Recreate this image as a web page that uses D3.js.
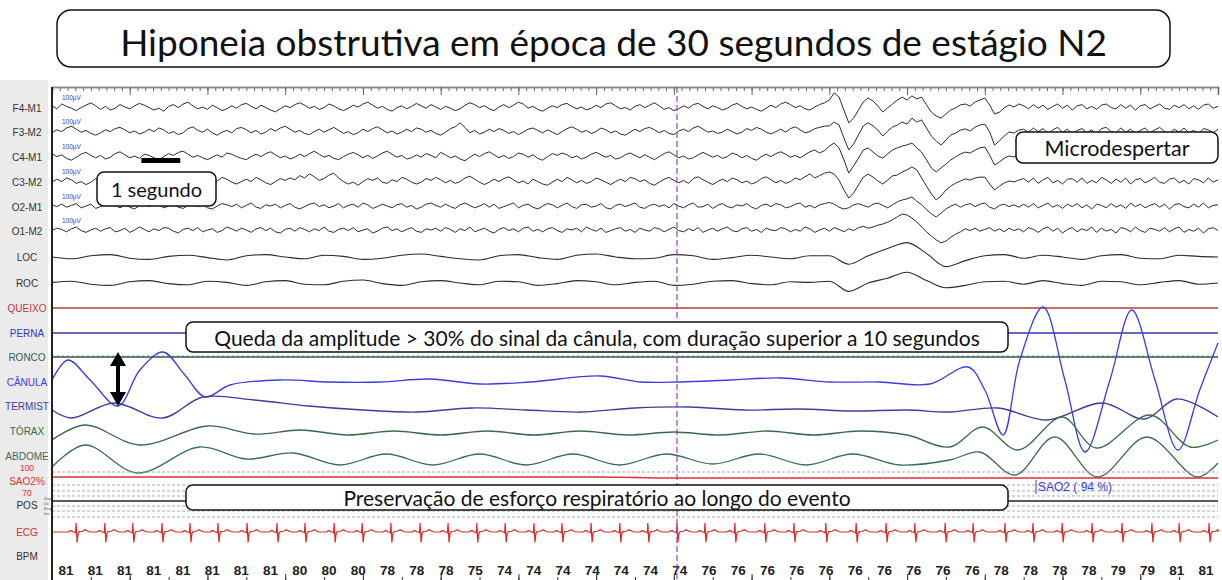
<!DOCTYPE html>
<html><head><meta charset="utf-8">
<script src="https://cdn.jsdelivr.net/npm/d3@7"></script>
<style>body{margin:0;background:#fff}svg{display:block}</style>
</head><body>
<svg id="chart" width="1222" height="580"></svg>
<script>
// ---- Epoch data (30 s of N2 sleep) ----
const epochSeconds = 30;
const eegRate = 8;   // samples per second for EEG traces (µV)
const eogRate = 2;   // samples per second for EOG traces (µV)

const eegF4M1 = [4,-6,10,2,-4,-12,-2,6,14,4,-8,2,-10,-4,8,0,-6,4,12,6,
 -2,-10,-4,-14,2,8,-2,10,16,4,-6,0,-8,6,-2,-12,-6,4,-4,8,
 12,2,-6,6,-2,-10,-16,-6,4,-2,8,14,6,-4,2,-8,-2,10,4,-6,
 -12,-4,6,0,10,16,6,-4,2,-8,-14,-2,4,-6,2,12,4,-4,8,0,
 -8,2,-4,-12,-6,6,14,8,-2,4,-6,-12,0,8,-2,6,16,10,-4,2,
 -8,-14,-4,4,-2,8,12,2,-6,0,-10,-4,6,-2,10,14,4,-6,-2,-10,
 2,8,-2,6,14,4,-8,-2,-12,-6,4,-4,8,12,2,-6,4,-2,-10,-4,
 6,12,2,-6,0,-8,-14,-4,6,-2,10,16,8,-2,4,-6,-10,0,8,14,
 23,47,33,-10,-53,-37,-10,17,30,20,3,-17,-3,10,23,33,23,37,27,33,
 7,-17,-30,-37,-23,-10,-3,7,10,3,17,23,30,7,-23,-17,-3,7,0,10,
 4,-6,8,-4,6,-8,2,10,-4,6,-10,4,8,-6,2,-8,6,10,-2,-6,8,-4,6,-10,4,8,-6,2,10,-4,-8,6,-2,8,-6,4,-8,6,10,-4,2];
const eegF3M2 = [-6,4,-2,10,16,6,-4,2,-8,-14,-6,4,-2,8,12,4,-6,0,-10,-4,
 6,-2,10,4,-8,-2,-12,-6,8,14,2,-4,6,-6,-14,-4,2,-6,8,12,
 4,-6,2,-10,-4,8,0,10,16,6,-4,2,-8,-12,-2,6,-4,4,12,2,
 -8,-2,-12,-6,6,-2,8,14,4,-6,0,-10,-4,6,-2,10,6,-4,2,-8,
 -14,-4,8,14,27,12,-6,2,-10,-4,6,-2,8,2,-8,-2,-12,-4,6,10,
 2,-6,4,-4,-12,-2,8,14,6,-4,2,-8,-2,10,4,-6,0,-10,-14,-4,
 6,-2,8,12,4,-6,2,-8,-12,0,6,-2,10,16,6,-4,0,-8,-4,6,
 -2,-10,-4,8,2,12,6,-4,-10,-2,6,-4,8,14,4,-6,-2,8,12,16,
 17,30,20,-23,-63,-43,-13,17,27,17,3,-17,0,13,20,30,23,43,30,37,
 10,-17,-33,-47,-30,-13,-7,3,7,0,13,20,23,-3,-47,-33,-17,-3,-7,3,
 6,-4,10,-2,8,-8,4,12,-4,6,-10,2,8,-6,4,-10,8,12,-2,-6,10,-4,6,-8,2,10,-6,4,12,-2,-8,6,-4,10,-6,2,-10,8,4,-6,6];
const eegC4M1 = [8,-2,4,-8,-14,-4,6,12,2,-6,2,-10,-4,8,14,4,-6,0,-8,6,
 2,-6,-12,-2,8,2,12,16,6,-4,2,-6,-12,-4,4,-4,10,6,-2,-8,
 -12,-2,6,-2,8,14,4,-6,0,-10,-4,6,-2,8,16,6,-4,2,-8,-12,
 -2,6,12,4,-6,2,-8,0,10,16,6,-4,2,-10,-6,4,-4,8,2,-6,
 12,4,-6,0,-10,-16,-4,6,-2,8,14,4,-6,2,-8,-2,10,6,-4,4,
 -8,-14,-2,8,2,10,4,-6,0,-10,-4,6,12,4,-4,2,-10,-6,4,10,
 2,-6,4,-4,-12,-2,8,14,4,-6,0,-10,-6,4,12,4,-4,2,-8,-2,
 10,4,-6,2,-8,-14,-2,6,-2,8,14,6,-4,2,-6,4,14,20,10,18,
 33,43,27,-13,-57,-33,-7,20,27,13,0,-7,7,20,27,33,37,43,27,13,
 -13,-40,-53,-40,-27,-13,-3,7,13,10,20,27,30,3,-30,-20,-7,0,-3,3,
 6,-6,10,-4,8,-10,4,10,-6,2,-8,6,12,-4,4,-10,8,-2,6,-8,10,-6,4,-10,6,8,-4,10,-6,2,-8,6,-4,10,-8,4,-6,8,-4,6,-2];
const eegC3M2 = [-4,6,-2,10,4,-8,-2,-12,-4,8,14,4,-6,2,-8,-2,10,6,-4,-10,
 -2,8,2,14,6,-4,2,-10,-4,6,-2,10,4,-6,0,12,6,-4,-10,-2,
 6,-2,12,4,-6,-12,-2,8,2,10,4,18,10,24,14,2,8,20,26,10,
 -2,-10,-4,-14,-2,8,2,10,-4,-8,4,-2,12,6,-4,-10,-4,8,2,12,
 4,-6,2,-8,-2,10,16,6,-4,-12,-4,6,-2,8,14,4,-6,0,-10,6,
 -2,-10,-14,-4,6,-2,12,4,-6,2,-8,-2,10,4,-4,-12,-2,6,-2,12,
 8,-2,4,-8,-14,-4,6,12,2,-6,2,-8,8,14,4,-4,-12,-2,6,-2,
 10,4,-6,0,-10,-4,8,14,4,-6,2,-8,-2,10,4,14,24,10,18,26,
 30,23,3,-30,-57,-40,-13,13,23,13,0,-10,3,17,20,30,37,47,37,10,
 -17,-43,-63,-50,-30,-17,-7,0,7,3,10,13,13,-10,-30,-17,-7,0,-3,3,
 8,-4,10,-8,4,12,-6,2,-10,6,8,-4,10,-8,2,-6,12,4,-8,6,-4,10,-10,4,8,-6,2,12,-4,-8,6,10,-6,2,-10,8,4,-6,10,-4,4];
const eegO2M1 = [4,-2,6,-4,2,8,-6,0,6,-8,-2,4,10,2,-6,4,-4,-10,2,6,
 -2,8,4,-6,0,10,-4,-8,2,6,-2,4,-6,-10,0,8,4,-2,6,-6,
 2,10,-4,-8,4,0,6,-6,2,8,-4,-10,-2,6,10,-2,4,-6,0,8,
 -6,2,6,-4,10,4,-8,-2,6,0,-6,4,8,-4,2,-10,-4,6,10,2,
 -4,6,-2,-8,4,10,2,-6,0,8,-4,6,-8,-2,4,10,-6,2,6,-4,
 -10,0,8,4,-6,2,10,-2,-8,4,6,-4,0,8,-6,-10,2,6,-2,4,
 10,-4,-8,2,6,-2,4,-6,8,0,-6,4,10,-4,-2,6,-8,2,8,-2,
 -6,4,0,8,-4,-10,2,6,-2,8,4,-6,-2,6,10,-4,2,-6,4,8,
 12,6,-4,-10,-6,4,8,2,-4,6,10,2,-6,4,14,20,24,30,16,4,
 -12,-26,-37,-24,-10,0,6,-4,4,8,-2,6,10,-4,-10,2,6,-2,4,-4,
 6,-4,8,-6,2,10,-4,4,-8,6,-2,8,-6,4,-10,6,2,-6,8,-4,4,-8,10,-2,6,-6,2,8,-4,6,-10,4,8,-2,-6,6,-4,10,-6,2,4];
const eegO1M2 = [-2,6,2,-6,4,10,-2,-8,0,6,-4,4,8,-6,-2,6,-8,0,10,2,
 -6,4,-2,8,6,-4,-10,2,6,-2,8,-6,0,4,-8,-2,10,4,-4,6,
 0,-8,4,8,-2,6,-6,-10,2,6,-4,8,2,-6,4,-2,10,-4,-8,2,
 6,-2,8,-6,0,4,-10,-4,6,10,-2,4,-6,2,8,-4,-8,4,0,6,
 -4,8,2,-8,4,-2,10,-6,0,6,-4,-10,2,8,-2,4,-6,6,10,-4,
 2,-6,4,8,-2,-8,4,0,6,-6,10,2,-4,6,-8,-2,4,8,-4,2,
 -8,6,0,-4,8,4,-6,2,10,-2,-6,4,-2,8,-8,0,6,-4,4,10,
 -2,-6,4,8,-4,2,-8,6,0,-2,8,4,-6,2,-4,10,4,-8,0,6,
 -4,8,2,-6,4,-2,8,12,6,10,16,20,26,34,44,53,50,40,27,10,
 -6,-20,-33,-43,-37,-24,-14,-6,4,-2,6,-4,2,8,-4,4,-6,6,-2,4,
 -6,8,2,-8,4,10,-4,6,-10,2,8,-6,4,-2,10,-8,6,-4,2,-10,8,4,-6,10,-2,-8,6,2,-4,8,-6,4,10,-8,2,-4,6,-10,4,8,-2];
const eogLOC = [0,-6,4,8,-4,-8,2,6,-2,-10,4,8,0,-6,6,2,-8,-4,6,10,
 2,-6,-10,4,8,-2,-8,6,10,0,-6,-4,8,4,-8,-2,6,0,-6,4,
 4,-24,4,28,48,12,-32,-12,4,8,-4,6,0,-8,4,8,-4,-6,6,2,0];
const eogROC = [2,6,-4,-8,4,8,-2,-6,6,2,-8,4,8,-4,-6,6,10,-2,-8,4,
 8,0,-6,6,4,-8,-2,8,4,-6,2,6,-8,-4,6,8,-2,-6,4,2,
 6,-28,0,16,36,8,-16,-8,4,6,-4,8,-2,-8,6,4,-6,2,8,-4,0];

// Respiratory channels: [time (s), amplitude (a.u.)]
const canulaFlow = [[0,2],[0.41,22],[0.98,2],[1.70,-24],[2.26,12],[2.86,30],[3.4,8],[3.94,-15],[4.58,-3],[5.87,2],
 [7.15,0],[8.44,0],[9.72,3],[11.01,-2],[12.30,0],[14.10,6],[15.13,0],[16.16,0],[17.44,2],[18.73,4],[20.02,0],
 [21.30,0],[22.59,-2],[23.57,15],[24.00,-8],[24.47,-53],[24.90,22],[25.50,75],[26.06,2],[26.58,-70],[27.22,2],
 [27.78,72],[28.38,2],[28.97,-68],[29.53,-8],[30,39]];
const termistorFlow = [[0,0],[0.5,-8],[1.6,7],[2.85,-8],[3.88,13],[5.2,10],[6.6,4],[8.0,0],[9.4,-2],[10.8,2],
 [12.2,0],[13.6,-2],[15.0,2],[16.4,3],[17.8,0],[19.2,1],[20.6,-1],[22.0,0],[23.1,-2],[24.34,2],[25.59,-10],
 [27.03,7],[28.11,-9],[28.94,11],[30,-7]];
const thoraxEffort = [[0,-8],[0.85,7],[2.26,-13],[4.0,6],[5.2,-2],[6.4,2],[7.6,-3],[8.8,1],[10.0,-3],[11.2,1],
 [12.4,-3],[13.6,1],[14.8,-3],[16.0,0],[17.2,-3],[18.4,1],[19.6,-3],[20.8,1],[22.0,-3],[23.1,-15],[23.94,5],
 [24.86,-18],[25.99,15],[26.87,-16],[28.25,17],[29.28,-15],[30,-8]];
const abdomenEffort = [[0,-10],[0.85,12],[2.2,-16],[3.8,10],[5.0,-2],[6.2,4],[7.4,-8],[8.6,3],[9.8,-8],[11.0,3],
 [12.2,-8],[13.4,3],[14.6,-8],[15.8,3],[17.0,-7],[18.2,3],[19.4,-8],[20.6,3],[21.8,-8],[23.1,-3],[23.87,5],
 [24.78,-18],[25.8,20],[26.9,-20],[28.17,20],[29.46,-20],[30,-6]];

// SpO2 (%), one reading every 2 s
const spo2Values = [95,95,95,95,95,95,95,95,94,94,94,94,94,94,94,94];
const spo2Readout = 94;

// ECG R-peak times (s) and heart-rate readout per beat (bpm)
const rPeakTimes = [0.62,1.36,2.08,2.83,3.55,4.27,5.02,5.79,6.51,7.26,7.98,8.72,9.47,10.19,10.93,11.66,12.40,13.12,
 13.87,14.61,15.33,16.08,16.80,17.57,18.34,19.09,19.91,20.69,21.46,22.20,22.98,23.70,24.52,25.24,25.99,26.76,
 27.53,28.30,29.00,29.77];
const bpmValues = [81,81,81,81,81,81,81,81,80,80,80,78,78,78,75,74,74,74,74,74,74,74,
 76,76,76,76,76,76,76,76,76,76,78,78,78,78,79,79,81,81];
// One heartbeat morphology: [offset from R (s), mV]
const ecgBeat = [[-0.2,0],[-0.16,0.12],[-0.12,0.15],[-0.08,0],[-0.03,0],[-0.015,-0.15],[0,1.0],[0.025,-1.15],
 [0.05,-0.2],[0.08,0.05],[0.16,0.08],[0.24,0.25],[0.32,0.05],[0.38,0]];

const cursorTime = 16.08;
const titleText = "Hiponeia obstrutiva em época de 30 segundos de estágio N2";

// ---- Layout ----
const svg = d3.select("#chart");
const plotL = 52, plotR = 1218, rulerY = 87, bottomY = 580;
const x = d3.scaleLinear().domain([0, epochSeconds]).range([plotL, plotR]);

// left label panel
svg.append("rect").attr("x",0).attr("y",80).attr("width",48).attr("height",500).attr("fill","#ebebeb");

const labelFont = "'Liberation Sans', Arial, sans-serif";
function channelLabel(text, y, color, size){
  svg.append("text").attr("x",27).attr("y",y).attr("text-anchor","middle").attr("dominant-baseline","central")
    .attr("font-family",labelFont).attr("font-size",size||10).attr("fill",color).text(text);
}

// ---- EEG ----
const eegGain = 0.3; // px per µV
const eegChannels = [
  {name:"F4-M1", data:eegF4M1, base:107},
  {name:"F3-M2", data:eegF3M2, base:131},
  {name:"C4-M1", data:eegC4M1, base:156},
  {name:"C3-M2", data:eegC3M2, base:181},
  {name:"O2-M1", data:eegO2M1, base:206},
  {name:"O1-M2", data:eegO1M2, base:230}
];
eegChannels.forEach(ch => {
  const y = d3.scaleLinear().domain([-100,100]).range([ch.base+100*eegGain, ch.base-100*eegGain]);
  const line = d3.line().x((d,i)=>x(i/eegRate)).y(d=>y(d)).curve(d3.curveLinear);
  svg.append("path").attr("d",line(ch.data.slice(0, epochSeconds*eegRate+1))).attr("fill","none")
    .attr("stroke","#2b2b2b").attr("stroke-width",1).attr("stroke-linejoin","round");
  svg.append("text").attr("x",62).attr("y",ch.base-7).attr("font-family",labelFont).attr("font-size",6.5)
    .attr("fill","#3a3ad0").text("100µV");
  channelLabel(ch.name, ch.base+1, "#333");
});

const eogChannels = [{name:"LOC", data:eogLOC, base:257},{name:"ROC", data:eogROC, base:283}];
eogChannels.forEach(ch => {
  const y = d3.scaleLinear().domain([-100,100]).range([ch.base+30, ch.base-30]);
  const line = d3.line().x((d,i)=>x(i/eogRate)).y(d=>y(d)).curve(d3.curveMonotoneX);
  svg.append("path").attr("d",line(ch.data)).attr("fill","none").attr("stroke","#2b2b2b").attr("stroke-width",1.1);
  channelLabel(ch.name, ch.base, "#333");
});

// ---- flat EMG / snore channels ----
const flatChannels = [
  {name:"QUEIXO", base:308, color:"#c23a3a", w:1.4},
  {name:"PERNA", base:333, color:"#3535b8", w:1.3},
  {name:"RONCO", base:357, color:"#2f5d52", w:1.6}
];
flatChannels.forEach(ch => {
  svg.append("line").attr("x1",plotL).attr("x2",plotR).attr("y1",ch.base).attr("y2",ch.base)
    .attr("stroke",ch.color).attr("stroke-width",ch.w);
  channelLabel(ch.name, ch.base, ch.color);
});
// snore channel texture
svg.append("line").attr("x1",plotL).attr("x2",plotR).attr("y1",356).attr("y2",356)
  .attr("stroke","#2f5d52").attr("stroke-width",1).attr("stroke-dasharray","2,3").attr("opacity",0.6);

// ---- respiratory ----
const respChannels = [
  {name:"CÂNULA", data:canulaFlow, base:382, color:"#3c3ce0", w:1.3},
  {name:"TERMIST", data:termistorFlow, base:410, color:"#3d3d9c", w:1.3},
  {name:"TÓRAX", data:thoraxEffort, base:432, color:"#3b6a45", w:1.3},
  {name:"ABDOME", data:abdomenEffort, base:457, color:"#3a6a5e", w:1.3}
];
const labelY = {"CÂNULA":382, "TERMIST":406, "TÓRAX":431, "ABDOME":456};
const labelColor = {"CÂNULA":"#3c3ce0", "TERMIST":"#3d3d9c", "TÓRAX":"#3b6a45", "ABDOME":"#3a6a5e"};
const respY = {};
respChannels.forEach(ch => {
  const y = d3.scaleLinear().domain([-80,80]).range([ch.base+80, ch.base-80]);
  respY[ch.name] = y;
  const line = d3.line().x(d=>x(d[0])).y(d=>y(d[1])).curve(d3.curveCatmullRom.alpha(0.5));
  svg.append("path").attr("d",line(ch.data)).attr("fill","none").attr("stroke",ch.color).attr("stroke-width",ch.w);
  channelLabel(ch.name, labelY[ch.name], labelColor[ch.name]);
});

// ---- SpO2 ----
const ySat = d3.scaleLinear().domain([70,100]).range([502,472]);
const gridLines = [ySat(100), 485, 491, 496, 506, 511, 517];
gridLines.forEach(v => svg.append("line").attr("x1",plotL).attr("x2",plotR).attr("y1",v).attr("y2",v)
  .attr("stroke","#aaa").attr("stroke-width",1).attr("stroke-dasharray","3,2"));
const satLine = d3.line().x((d,i)=>x(i*2)).y(d=>ySat(d)).curve(d3.curveMonotoneX);
svg.append("path").attr("d",satLine(spo2Values)).attr("fill","none").attr("stroke","#e03030").attr("stroke-width",1.5);
channelLabel("100", 468, "#e03030", 8.5);
channelLabel("SAO2%", 481, "#e03030");
channelLabel("70", 493, "#e03030", 8.5);
svg.append("line").attr("x1",1036).attr("x2",1036).attr("y1",480).attr("y2",494).attr("stroke","#3a3ae0");
svg.append("text").attr("x",1038).attr("y",491).attr("font-family",labelFont).attr("font-size",12)
  .attr("fill","#3a3ae0").text(`SAO2 ( ${spo2Readout} %)`);

// ---- body position ----
svg.append("line").attr("x1",plotL).attr("x2",plotR).attr("y1",501).attr("y2",501).attr("stroke","#222").attr("stroke-width",1.3);
channelLabel("POS", 505, "#333");
["Sup","Dir","Esq","Inv"].forEach((t,i)=> svg.append("text").attr("x",44).attr("y",500+i*5).attr("font-family",labelFont)
  .attr("font-size",4).attr("fill","#555").text(t));

// ---- ECG ----
const ecgBase = 532, ecgGainPx = 9;
const ecgPts = [[0,0]];
rPeakTimes.forEach(r => ecgBeat.forEach(b => ecgPts.push([r+b[0], b[1]])));
ecgPts.push([epochSeconds,0]);
const ecgLine = d3.line().x(d=>x(Math.max(0,Math.min(epochSeconds,d[0])))).y(d=>ecgBase - d[1]*ecgGainPx);
svg.append("path").attr("d",ecgLine(ecgPts)).attr("fill","none").attr("stroke","#e02828").attr("stroke-width",1.2);
channelLabel("ECG", 532, "#e02828");
channelLabel("BPM", 556, "#333");

// ---- heart-rate readout row ----
const bpmX = d3.scalePoint().domain(d3.range(bpmValues.length)).range([66,1206]);
svg.append("g").selectAll("text").data(bpmValues).join("text")
  .attr("x",(d,i)=>bpmX(i)).attr("y",575).attr("text-anchor","middle")
  .attr("font-family","'Liberation Sans Narrow','Arial Narrow',sans-serif").attr("font-weight","bold")
  .attr("font-size",13.5).attr("fill","#222").text(d=>d);

// ---- time rulers ----
const rulerMinor = d3.axisBottom(x).tickValues(d3.range(0, epochSeconds+0.001, 0.2)).tickSize(4).tickFormat("");
const rulerMajor = d3.axisBottom(x).tickValues(d3.range(0, epochSeconds+0.001, 2)).tickSize(8).tickFormat("");
[rulerMinor, rulerMajor].forEach(a => {
  const g = svg.append("g").attr("transform",`translate(0,${rulerY})`).call(a);
  g.selectAll("line").attr("stroke","#666");
  g.select(".domain").attr("stroke","#888").attr("stroke-width",1.5);
});
const bottomMinor = d3.axisTop(x).tickValues(d3.range(1, epochSeconds, 1)).tickSize(3).tickFormat("");
const bottomMajor = d3.axisTop(x).tickValues(d3.range(0, epochSeconds, 2)).tickSize(6).tickFormat("");
[bottomMinor, bottomMajor].forEach(a => {
  const g = svg.append("g").attr("transform",`translate(0,${bottomY})`).call(a);
  g.selectAll("line").attr("stroke","#333");
  g.select(".domain").remove();
});
// left axis
svg.append("line").attr("x1",plotL).attr("x2",plotL).attr("y1",rulerY).attr("y2",bottomY).attr("stroke","#222").attr("stroke-width",2);

// event cursor
svg.append("line").attr("x1",x(cursorTime)).attr("x2",x(cursorTime)).attr("y1",rulerY).attr("y2",bottomY)
  .attr("stroke","#a040c0").attr("stroke-width",1.2).attr("stroke-dasharray","6,3");

// ---- annotations ----
const noteFont = "Lato, 'Open Sans', sans-serif";
function noteBox(bx, by, bw, bh, text, size, r, dy){
  svg.append("rect").attr("x",bx).attr("y",by).attr("width",bw).attr("height",bh).attr("rx",r||7)
    .attr("fill","#fff").attr("stroke","#111").attr("stroke-width",1.5);
  svg.append("text").attr("x",bx+bw/2).attr("y",by+bh/2+(dy||0)).attr("text-anchor","middle").attr("dominant-baseline","central")
    .attr("font-family",noteFont).attr("font-size",size).attr("fill","#111").text(text);
}
noteBox(57, 10, 1113, 57, titleText, 37, 14, 3);
noteBox(97, 172, 119, 34, "1 segundo", 20);
noteBox(1016, 132, 202, 31, "Microdespertar", 21.5);
noteBox(186, 322, 822, 30, "Queda da amplitude > 30% do sinal da cânula, com duração superior a 10 segundos", 21);
noteBox(186, 485, 822, 25, "Preservação de esforço respiratório ao longo do evento", 21);

// one-second scale bar
svg.append("rect").attr("x",x(2.3)).attr("y",158).attr("width",x(1)-x(0)).attr("height",5).attr("fill","#000");

// amplitude arrow spanning the pre-event cânula excursion
const yCan = respY["CÂNULA"];
const aTop = yCan(d3.max(canulaFlow.filter(d=>d[0]<4), d=>d[1]));
const aBot = yCan(d3.min(canulaFlow.filter(d=>d[0]<4), d=>d[1]));
const ax = 118;
svg.append("rect").attr("x",ax-2).attr("y",aTop+12).attr("width",4).attr("height",aBot-aTop-24).attr("fill","#000");
svg.append("path").attr("d",`M${ax},${aTop} L${ax-8},${aTop+14} L${ax+8},${aTop+14} Z`).attr("fill","#000");
svg.append("path").attr("d",`M${ax},${aBot} L${ax-8},${aBot-14} L${ax+8},${aBot-14} Z`).attr("fill","#000");
</script>
</body></html>
